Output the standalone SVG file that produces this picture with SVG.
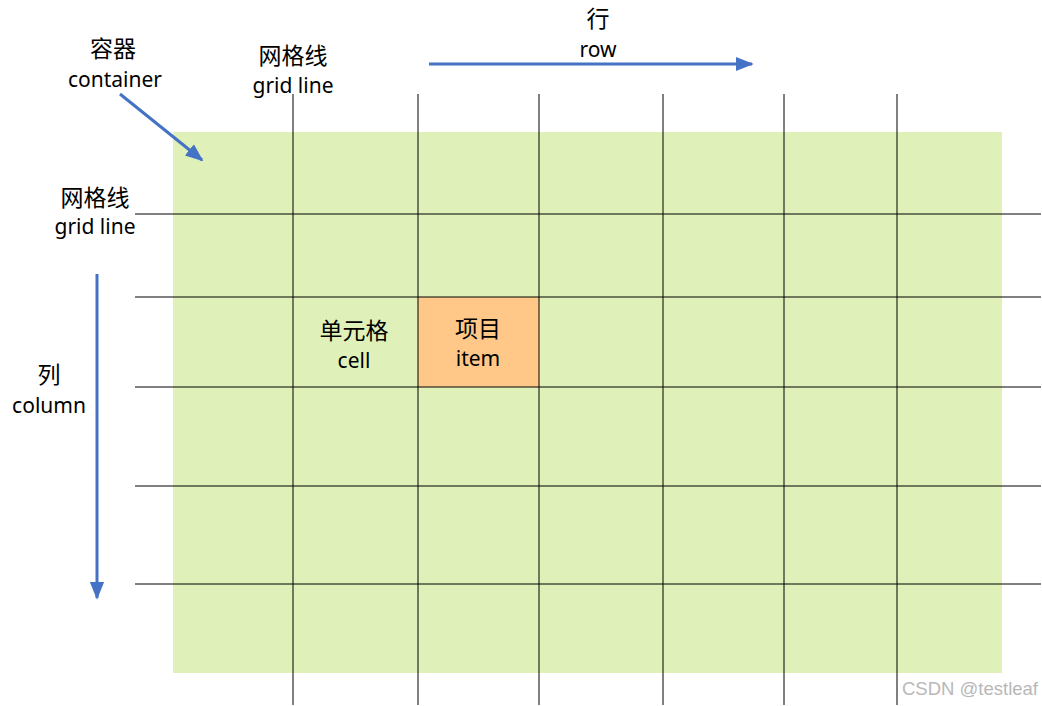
<svg xmlns="http://www.w3.org/2000/svg" width="1042" height="706" viewBox="0 0 1042 706">
<defs>
<style>
.cn{font-family:"Noto Sans CJK SC","Noto Sans",sans-serif;font-size:23px;fill:#000;text-anchor:middle}
.en{font-family:"Noto Sans","Noto Sans CJK SC",sans-serif;font-size:21px;fill:#000;text-anchor:middle}
.g{stroke:#000;stroke-width:1;fill:none}
.arr{stroke:#4472C4;stroke-width:3;fill:none;marker-end:url(#ah)}
</style>
<marker id="ah" viewBox="0 0 10 10" refX="9" refY="5" markerWidth="6" markerHeight="6" markerUnits="strokeWidth" orient="auto">
<path d="M0,1 L10,5 L0,9 Z" fill="#4472C4"/>
</marker>
</defs>
<rect width="1042" height="706" fill="#fff"/>
<g id="container"><rect x="173" y="132" width="829" height="541" fill="#DFF1B8"/></g>
<g id="item-cell"><rect x="418" y="297" width="121" height="90" fill="#FFC888"/></g>
<g id="grid" class="g">
<line x1="293" y1="94" x2="293" y2="705"/>
<line x1="418" y1="94" x2="418" y2="705"/>
<line x1="539" y1="94" x2="539" y2="705"/>
<line x1="663" y1="94" x2="663" y2="705"/>
<line x1="784" y1="94" x2="784" y2="705"/>
<line x1="897" y1="94" x2="897" y2="705"/>
<line x1="135" y1="214" x2="1041" y2="214"/>
<line x1="135" y1="297" x2="1041" y2="297"/>
<line x1="135" y1="387" x2="1041" y2="387"/>
<line x1="135" y1="486" x2="1041" y2="486"/>
<line x1="135" y1="584" x2="1041" y2="584"/>
</g>
<g id="connectors">
<line class="arr" x1="429" y1="64" x2="752" y2="64"/>
<line class="arr" x1="97" y1="274" x2="97" y2="598"/>
<line class="arr" x1="120" y1="94" x2="202" y2="160"/>
</g>
<g id="label-row"><text class="cn" x="598" y="27">行</text><text class="en" x="598" y="57">row</text></g>
<g id="label-container"><text class="cn" x="113" y="57">容器</text><text class="en" x="115" y="87">container</text></g>
<g id="label-gridline-top"><text class="cn" x="293" y="64">网格线</text><text class="en" x="293" y="93">grid line</text></g>
<g id="label-gridline-left"><text class="cn" x="95" y="206">网格线</text><text class="en" x="95" y="234">grid line</text></g>
<g id="label-cell"><text class="cn" x="354" y="339">单元格</text><text class="en" x="354" y="368">cell</text></g>
<g id="label-item"><text class="cn" x="478" y="337">项目</text><text class="en" x="478" y="366">item</text></g>
<g id="label-column"><text class="cn" x="49" y="383">列</text><text class="en" x="49" y="413">column</text></g>
<text x="1038" y="695" font-family="Liberation Sans, Arial, sans-serif" font-size="18.5" fill="#B8B8B8" text-anchor="end">CSDN @testleaf</text>
</svg>
